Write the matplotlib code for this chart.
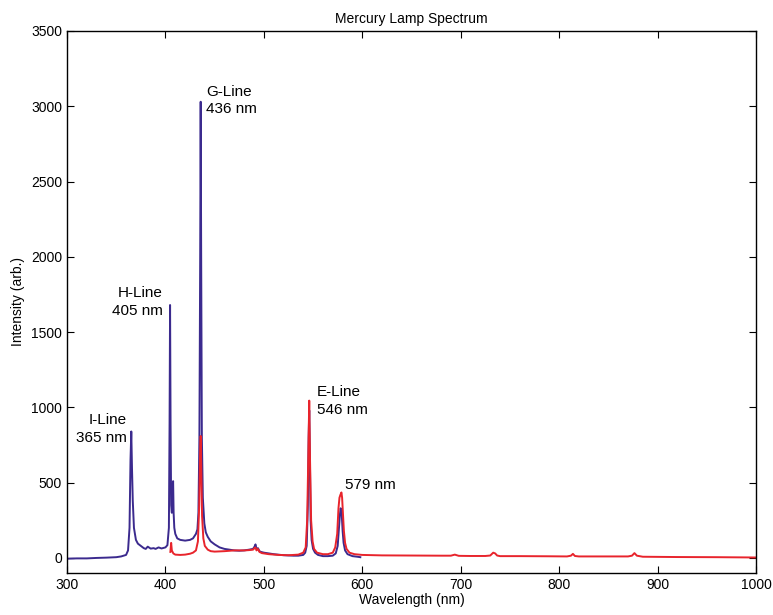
import matplotlib
matplotlib.use('Agg')
import matplotlib.pyplot as plt
import numpy as np

# blue trace
blue_nm = [300, 310, 320, 330, 340, 350, 355, 360, 362, 363.5, 364.5, 365.3, 366, 366.8, 368, 370, 372, 375,
           378, 380, 382, 385, 388, 390, 393, 396, 400, 402, 403.5, 404.2, 404.7, 405.2, 405.8, 406.5, 407.3,
           407.8, 408.3, 409, 410, 412, 415, 420, 425, 428, 431, 432.5, 433.5, 434.5, 435.3, 435.8, 436.3,
           437, 438, 439.5, 441, 443, 446, 450, 455, 460, 465, 470, 475, 480, 485, 489, 490.5, 491.5, 492.5,
           494, 495.5, 497, 500, 505, 510, 520, 530, 535, 540, 542, 543.5, 544.7, 545.5, 546.1, 546.7, 547.5,
           548.5, 550, 552, 555, 560, 565, 570, 573, 575, 576.3, 577.3, 578, 578.6, 579.2, 580, 581, 582.5,
           585, 590, 595, 598]
blue_int = [-5, -3, -3, 0, 2, 5, 10, 20, 50, 200, 650, 840, 600, 380, 200, 120, 95, 80,
            65, 60, 75, 62, 65, 60, 70, 63, 70, 85, 200, 900, 1680, 900, 350, 300, 480,
            510, 300, 200, 160, 130, 120, 115, 120, 130, 160, 190, 300, 800, 2000, 3030, 2000,
            800, 400, 230, 170, 140, 110, 90, 70, 60, 55, 50, 48, 50, 55, 60, 75, 90, 60,
            65, 45, 40, 35, 30, 25, 18, 15, 15, 20, 35, 80, 350, 800, 980, 700, 250,
            120, 60, 35, 20, 12, 12, 15, 30, 80, 200, 290, 330, 310, 280, 180, 100, 50,
            25, 12, 8, 5]

# red trace
red_nm = [405, 405.8, 406.5, 408, 410, 415, 420, 425, 428, 431, 433, 434.3, 435.2, 435.8, 436.4, 437.2,
          438.5, 440, 443, 446, 450, 460, 470, 480, 485, 489, 490.5, 491.5, 492.5, 494, 495.5, 498, 505,
          515, 525, 535, 540, 542.5, 544, 545.2, 546.1, 546.9, 548, 549.5, 551, 554, 560, 565, 570, 572.5,
          574.5, 575.8, 576.8, 577.8, 578.8, 579.5, 580.3, 581.3, 582.5, 584, 587, 592, 600, 620, 650, 680,
          690, 694, 698, 710, 725, 730, 733, 735, 737, 740, 760, 790, 808, 812, 814, 816, 820, 850, 870,
          874, 876.5, 879, 885, 920, 960, 1000]
red_int = [40, 100, 50, 30, 22, 20, 22, 28, 35, 50, 110, 350, 700, 810, 600, 280,
           130, 80, 55, 45, 42, 45, 50, 50, 52, 55, 65, 70, 50, 60, 40, 32, 25,
           20, 18, 22, 35, 70, 250, 700, 1045, 650, 250, 110, 60, 35, 25, 25, 35, 70,
           160, 330, 400, 420, 435, 400, 300, 180, 100, 60, 35, 25, 20, 17, 16, 15,
           15, 22, 14, 13, 13, 16, 35, 30, 16, 12, 12, 11, 10, 15, 27, 13, 10, 10, 10,
           15, 32, 15, 8, 6, 5, 3]

# labels: (text, x, y, ha)
labels = [('I-Line\n365 nm', 361, 856, 'right'),
          ('H-Line\n405 nm', 397.5, 1700, 'right'),
          ('G-Line\n436 nm', 441, 3040, 'left'),
          ('E-Line\n546 nm', 554, 1042, 'left'),
          ('579 nm', 582.5, 484, 'left')]

plt.rcParams['font.family'] = ['Liberation Sans Narrow', 'Liberation Sans', 'DejaVu Sans']

fig = plt.figure(figsize=(7.73, 6.15), dpi=100)
ax = fig.add_axes([0.0867, 0.0683, 0.8913, 0.8813])

ax.plot(blue_nm, blue_int, color='#3b2a8e', lw=1.4)
ax.plot(red_nm, red_int, color='#e8242c', lw=1.4)

for txt, x, y, ha in labels:
    ax.text(x, y, txt, ha=ha, va='center', multialignment=ha, fontsize=11,
            family=['Liberation Sans', 'DejaVu Sans'], linespacing=1.3)

ax.set_xlim(300, 1000)
ax.set_ylim(-100, 3500)
ax.set_xticks(np.arange(300, 1001, 100))
ax.set_yticks(np.arange(0, 3501, 500))
ax.tick_params(direction='in', top=True, right=True, length=5, labelsize=10)
for s in ax.spines.values():
    s.set_linewidth(1.0)

ax.set_title('Mercury Lamp Spectrum', fontsize=10, pad=6)
ax.set_xlabel('Wavelength (nm)', fontsize=10, labelpad=1)
ax.set_ylabel('Intensity (arb.)', fontsize=10, labelpad=4)

fig.savefig('out.png', dpi=100)
